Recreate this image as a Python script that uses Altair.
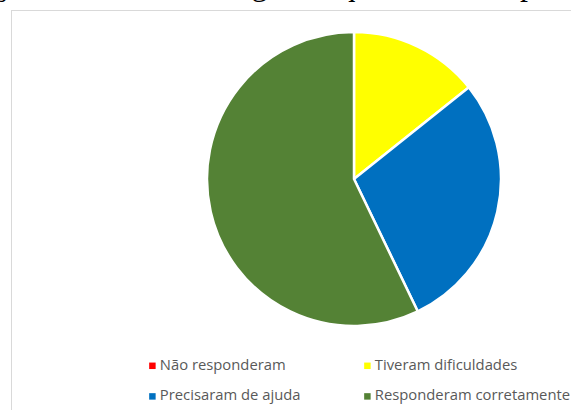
import altair as alt
import pandas as pd

# Data (pie order, clockwise from 12 o'clock)
categories = ["Não responderam", "Tiveram dificuldades", "Precisaram de ajuda", "Responderam corretamente"]
counts = [0, 1, 2, 4]
colors = ["#FF0000", "#FFFF00", "#0070C0", "#548235"]
# legend order (legend fills column by column)
legend_order = ["Não responderam", "Precisaram de ajuda", "Tiveram dificuldades", "Responderam corretamente"]
caption = "Ilustração 4. Gráfico do segundo questionário aplicado"

df = pd.DataFrame({"categoria": categories, "valor": counts, "ordem": list(range(len(categories)))})
color_of = dict(zip(categories, colors))

W, H = 560, 400  # plot area (padding left 11, top 10)

pie = alt.Chart(df).mark_arc(radius=147, stroke="white", strokeWidth=2.5).encode(
    theta=alt.Theta("valor:Q", stack=True),
    order=alt.Order("ordem:Q"),
    color=alt.Color(
        "categoria:N",
        scale=alt.Scale(domain=legend_order, range=[color_of[c] for c in legend_order]),
        sort=legend_order,
        legend=alt.Legend(
            title=None,
            orient="none",
            legendX=134,
            legendY=348,
            columns=2,
            symbolType="square",
            symbolSize=42,
            symbolStrokeWidth=0,
            labelFontSize=14.8,
            labelFont="Open Sans",
            labelColor="#595959",
            labelOffset=0,
            labelLimit=400,
            rowPadding=15,
            columnPadding=59,
            padding=0,
        ),
    ),
    x=alt.value(343),
    y=alt.value(169),
)

frame_top = alt.Chart(df).mark_rule(color="#d9d9d9", strokeWidth=1).encode(
    x=alt.value(0), x2=alt.value(W + 20), y=alt.value(0.5)
)
frame_left = alt.Chart(df).mark_rule(color="#d9d9d9", strokeWidth=1).encode(
    x=alt.value(0.5), y=alt.value(0), y2=alt.value(H + 20)
)

title_text = alt.Chart(pd.DataFrame({"t": [caption]})).mark_text(
    font="Liberation Serif", fontSize=32, align="left", baseline="alphabetic", color="black"
).encode(text="t:N", x=alt.value(-98), y=alt.value(-15))

chart = alt.layer(frame_top, frame_left, pie, title_text).properties(
    width=W,
    height=H,
    autosize=alt.AutoSizeParams(type="none"),
    padding={"left": 11, "top": 10, "right": 0, "bottom": 0},
).configure_view(stroke=None)

chart.save("out.html", embed_options={"renderer": "svg", "actions": False})
